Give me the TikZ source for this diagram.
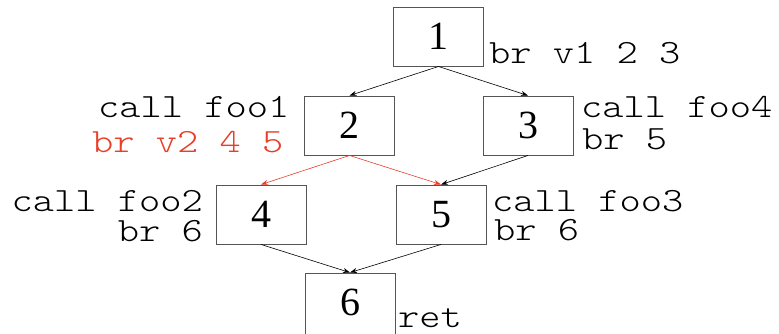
\documentclass[tikz,border=0pt]{standalone}
\usepackage{fontspec}
\setmainfont{Liberation Serif}
\newfontfamily\codefont[FakeStretch=1.19]{lmmonolt10-regular.otf}
\usetikzlibrary{arrows.meta}
\definecolor{hotpath}{RGB}{232,62,42}
\definecolor{boxline}{RGB}{85,85,85}
\tikzset{
  block/.style={draw=boxline, line width=0.9pt, minimum width=90pt, minimum height=59pt,
    inner sep=0pt, font=\fontsize{40}{40}\selectfont},
  edge/.style={line width=0.6pt, -{Stealth[length=7pt,width=5pt]}},
  hotedge/.style={edge, draw=hotpath},
  code/.style={inner sep=0pt, text height=19pt, text depth=2pt,
    font=\codefont\fontsize{34}{34}\selectfont},
}
\begin{document}
\begin{tikzpicture}[x=1pt, y=-1pt]
  \useasboundingbox (0,0) rectangle (779,333);

  % basic blocks
  \node[block] (b1) at (438.5,36.5) {1};
  \node[block] (b2) at (349.5,125.5) {2};
  \node[block] (b3) at (528,125.5) {3};
  \node[block] (b4) at (261,214.5) {4};
  \node[block] (b5) at (441,214.5) {5};
  \node[block, minimum height=62pt] (b6) at (350,304) {\raisebox{4pt}{6}};

  % instructions
  \node[code, anchor=base west] (i1) at (489,63) {br v1 2 3};
  \node[code, anchor=base west] (i2a) at (98,117) {call foo1};
  \node[code, anchor=base west, text=hotpath] (i2b) at (92,152) {br v2 4 5};
  \node[code, anchor=base west] (i3a) at (581,117) {call foo4};
  \node[code, anchor=base west] (i3b) at (582,149) {br 5};
  \node[code, anchor=base east] (i4a) at (203,211) {call foo2};
  \node[code, anchor=base east] (i4b) at (203,241) {br 6};
  \node[code, anchor=base west] (i5a) at (492,211) {call foo3};
  \node[code, anchor=base west] (i5b) at (494,240) {br 6};
  \node[code, anchor=base west] (i6) at (398,327) {ret};

  % control-flow edges
  \draw[edge] (b1.south) -- (b2.north);
  \draw[edge] (b1.south) -- (b3.north);
  \draw[hotedge] (b2.south) -- (b4.north);
  \draw[hotedge] (b2.south) -- (b5.north);
  \draw[edge] (b3.south) -- (b5.north);
  \draw[edge] (b4.south) -- (b6.north);
  \draw[edge] (b5.south) -- (b6.north);
\end{tikzpicture}
\end{document}
